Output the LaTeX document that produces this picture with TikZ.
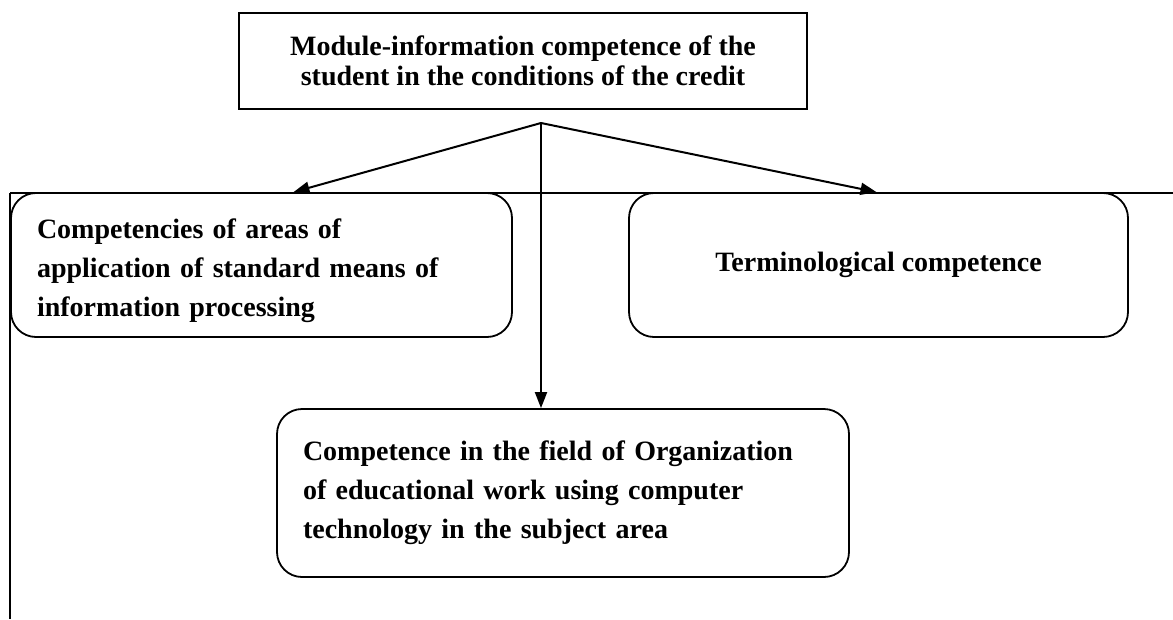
\documentclass[tikz,border=0pt]{standalone}
\usepackage{fontspec}
\setmainfont{Liberation Serif}
\usetikzlibrary{arrows.meta,calc}

\tikzset{
  line/.style={line width=2pt},
  plainbox/.style={draw, line width=1.8pt, rectangle, inner sep=0pt,
    font=\fontsize{28pt}{30pt}\selectfont\bfseries, align=center},
  roundbox/.style={draw, line width=1.8pt, rectangle, rounded corners=25pt,
    font=\fontsize{28pt}{39pt}\selectfont\bfseries},
  arr/.style={line width=2pt, -{Triangle[length=16pt,width=12pt]}}
}

\begin{document}
\begin{tikzpicture}[x=1pt,y=-1pt]
  \useasboundingbox (0,0) rectangle (1173,619);

  % bracket lines framing the lower level
  \draw[line] (10,193) -- (1173,193);
  \draw[line] (10,193) -- (10,619);

  % top block
  \node[plainbox, minimum width=568pt, minimum height=96pt] (top) at (523,61)
    {Module-information competence of the\\student in the conditions of the credit};

  % second level
  \node[roundbox, minimum width=501pt, minimum height=144pt, text width=449pt,
        inner xsep=26pt, align=left] (lbox) at (261.5,265)
    {\rule{0pt}{31pt}Competencies of areas of\\application of standard means of\\information processing};
  \node[roundbox, minimum width=499pt, minimum height=144pt, align=center] (rbox) at (878.5,265)
    {Terminological competence};

  % third level
  \node[roundbox, minimum width=572pt, minimum height=168pt, text width=520pt,
        inner xsep=26pt, align=left] (bbox) at (563,493)
    {Competence in the field of Organization\\of educational work using computer\\technology in the subject area};

  % branching point below the top block
  \coordinate (apex) at (541,123);

  \draw[arr] (apex) -- ([xshift=32pt]lbox.north);
  \draw[arr] (apex) -- ([xshift=-2pt]rbox.north);
  \draw[arr] (apex) -- (apex |- bbox.north);
\end{tikzpicture}
\end{document}
